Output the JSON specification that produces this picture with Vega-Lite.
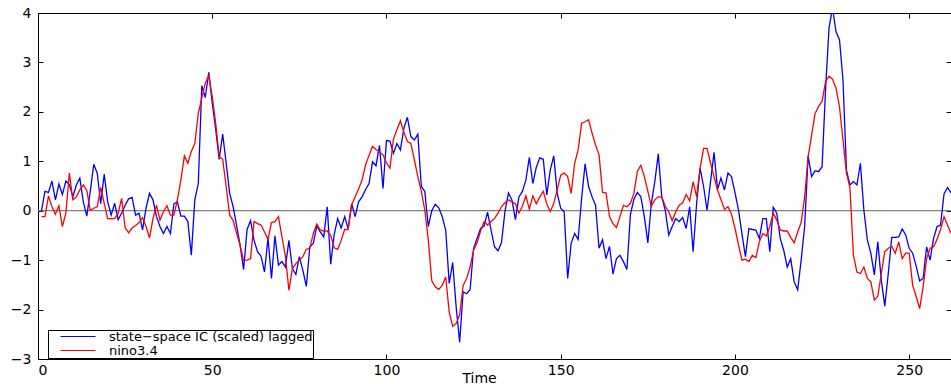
{
  "$schema": "https://vega.github.io/schema/vega-lite/v6.json",
  "width": 913,
  "height": 346,
  "autosize": "none",
  "padding": {"left": 38, "top": 13, "right": 0, "bottom": 25},
  "background": "white",
  "config": {
    "view": {"stroke": "black", "strokeWidth": 1},
    "font": "DejaVu Sans",
    "axis": {"domainColor": "black", "tickColor": "black", "labelColor": "black", "titleColor": "black", "grid": false, "labelFont": "DejaVu Sans", "labelFontSize": 14, "tickSize": -5}
  },
  "data": {
    "values": [
      {"t":1,"a":0,"b":-0.12},{"t":2,"a":0.39,"b":-0.12},{"t":3,"a":0.37,"b":0.3},{"t":4,"a":0.6,"b":0.08},{"t":5,"a":0.22,"b":-0.07},
      {"t":6,"a":0.54,"b":0.1},{"t":7,"a":0.33,"b":-0.32},{"t":8,"a":0.6,"b":-0.05},{"t":9,"a":0.53,"b":0.76},{"t":10,"a":0.28,"b":0.22},
      {"t":11,"a":0.52,"b":0.28},{"t":12,"a":0.66,"b":0.42},{"t":13,"a":0.18,"b":0.52},{"t":14,"a":-0.11,"b":0.41},{"t":15,"a":0.39,"b":0.01},
      {"t":16,"a":0.94,"b":0.05},{"t":17,"a":0.76,"b":0.08},{"t":18,"a":0.14,"b":0.47},{"t":19,"a":0.74,"b":0.15},{"t":20,"a":0.18,"b":-0.16},
      {"t":21,"a":-0.09,"b":-0.16},{"t":22,"a":0.15,"b":-0.16},{"t":23,"a":-0.18,"b":-0.05},{"t":24,"a":-0.05,"b":0.25},{"t":25,"a":0.11,"b":-0.34},
      {"t":26,"a":0.24,"b":-0.45},{"t":27,"a":0.27,"b":-0.35},{"t":28,"a":-0.09,"b":-0.3},{"t":29,"a":-0.05,"b":-0.24},{"t":30,"a":-0.39,"b":-0.14},
      {"t":31,"a":0.05,"b":-0.32},{"t":32,"a":0.35,"b":-0.55},{"t":33,"a":0.22,"b":-0.16},{"t":34,"a":-0.12,"b":0.11},{"t":35,"a":-0.32,"b":-0.19},
      {"t":36,"a":-0.46,"b":-0.02},{"t":37,"a":-0.32,"b":0.1},{"t":38,"a":-0.46,"b":-0.09},{"t":39,"a":0.14,"b":-0.09},{"t":40,"a":0.18,"b":0.22},
      {"t":41,"a":-0.11,"b":0.62},{"t":42,"a":-0.11,"b":1.11},{"t":43,"a":-0.22,"b":0.96},{"t":44,"a":-0.9,"b":1.2},{"t":45,"a":0.22,"b":1.36},
      {"t":46,"a":0.55,"b":1.97},{"t":47,"a":2.53,"b":2.28},{"t":48,"a":2.29,"b":2.58},{"t":49,"a":2.8,"b":2.73},{"t":50,"a":2.18,"b":2.31},
      {"t":51,"a":1.64,"b":1.77},{"t":52,"a":1.04,"b":1.09},{"t":53,"a":1.55,"b":1.04},{"t":54,"a":0.96,"b":0.49},{"t":55,"a":0.35,"b":-0.09},
      {"t":56,"a":0.08,"b":-0.2},{"t":57,"a":-0.3,"b":-0.46},{"t":58,"a":-0.7,"b":-0.7},{"t":59,"a":-1.19,"b":-1.01},{"t":60,"a":-0.38,"b":-1.0},
      {"t":61,"a":-0.2,"b":-0.97},{"t":62,"a":-0.6,"b":-0.22},{"t":63,"a":-0.83,"b":-0.26},{"t":64,"a":-0.92,"b":-0.29},{"t":65,"a":-1.24,"b":-0.43},
      {"t":66,"a":-0.55,"b":-0.58},{"t":67,"a":-1.37,"b":-0.24},{"t":68,"a":-0.51,"b":-0.22},{"t":69,"a":-1.1,"b":-0.12},{"t":70,"a":-1.03,"b":-0.53},
      {"t":71,"a":-1.14,"b":-0.92},{"t":72,"a":-0.6,"b":-1.61},{"t":73,"a":-1.17,"b":-1.17},{"t":74,"a":-1.29,"b":-1.07},{"t":75,"a":-0.93,"b":-1.0},
      {"t":76,"a":-1.2,"b":-0.93},{"t":77,"a":-1.53,"b":-0.78},{"t":78,"a":-0.73,"b":-0.76},{"t":79,"a":-0.66,"b":-0.46},{"t":80,"a":-0.31,"b":-0.27},
      {"t":81,"a":-0.43,"b":-0.39},{"t":82,"a":-0.53,"b":-0.41},{"t":83,"a":0.08,"b":-0.41},{"t":84,"a":-1.08,"b":-0.5},{"t":85,"a":-0.48,"b":-0.75},
      {"t":86,"a":-0.16,"b":-0.78},{"t":87,"a":-0.35,"b":-0.6},{"t":88,"a":-0.12,"b":-0.38},{"t":89,"a":-0.36,"b":-0.38},{"t":90,"a":0.14,"b":0.11},
      {"t":91,"a":-0.12,"b":0.28},{"t":92,"a":0.18,"b":0.44},{"t":93,"a":0.28,"b":0.62},{"t":94,"a":0.43,"b":0.93},{"t":95,"a":0.55,"b":1.12},
      {"t":96,"a":0.99,"b":1.3},{"t":97,"a":0.91,"b":1.24},{"t":98,"a":1.32,"b":1.19},{"t":99,"a":0.45,"b":1.13},{"t":100,"a":1.42,"b":0.97},
      {"t":101,"a":1.41,"b":0.86},{"t":102,"a":1.16,"b":1.45},{"t":103,"a":1.36,"b":1.64},{"t":104,"a":1.23,"b":1.82},{"t":105,"a":1.67,"b":1.59},
      {"t":106,"a":1.89,"b":1.4},{"t":107,"a":1.5,"b":1.36},{"t":108,"a":1.43,"b":1.03},{"t":109,"a":1.55,"b":0.69},{"t":110,"a":0.49,"b":0.39},
      {"t":111,"a":0.39,"b":0.01},{"t":112,"a":-0.32,"b":-0.59},{"t":113,"a":0.0,"b":-1.42},{"t":114,"a":0.13,"b":-1.54},{"t":115,"a":0.06,"b":-1.59},
      {"t":116,"a":-0.12,"b":-1.51},{"t":117,"a":-0.39,"b":-1.34},{"t":118,"a":-1.47,"b":-2.05},{"t":119,"a":-1.05,"b":-2.34},{"t":120,"a":-1.95,"b":-2.28},
      {"t":121,"a":-2.66,"b":-2.11},{"t":122,"a":-1.64,"b":-1.51},{"t":123,"a":-1.68,"b":-1.37},{"t":124,"a":-1.6,"b":-1.14},{"t":125,"a":-0.76,"b":-0.8},
      {"t":126,"a":-0.56,"b":-0.65},{"t":127,"a":-0.36,"b":-0.41},{"t":128,"a":-0.31,"b":-0.22},{"t":129,"a":-0.03,"b":-0.29},{"t":130,"a":-0.39,"b":-0.22},
      {"t":131,"a":-0.73,"b":-0.16},{"t":132,"a":-0.81,"b":-0.05},{"t":133,"a":-0.65,"b":0.08},{"t":134,"a":-0.02,"b":0.16},{"t":135,"a":0.36,"b":0.22},
      {"t":136,"a":0.22,"b":0.18},{"t":137,"a":-0.18,"b":0.14},{"t":138,"a":0.28,"b":-0.05},{"t":139,"a":0.39,"b":0.09},{"t":140,"a":0.62,"b":0.3},
      {"t":141,"a":1.08,"b":0.03},{"t":142,"a":0.55,"b":0.3},{"t":143,"a":0.88,"b":0.14},{"t":144,"a":1.07,"b":0.28},{"t":145,"a":1.04,"b":0.39},
      {"t":146,"a":0.32,"b":0.14},{"t":147,"a":0.82,"b":-0.02},{"t":148,"a":1.11,"b":0.15},{"t":149,"a":0.35,"b":0.42},{"t":150,"a":0.05,"b":0.72},
      {"t":151,"a":-0.02,"b":0.76},{"t":152,"a":-1.37,"b":0.69},{"t":153,"a":-0.66,"b":0.35},{"t":154,"a":-0.46,"b":0.96},{"t":155,"a":-0.58,"b":1.23},
      {"t":156,"a":0.25,"b":1.77},{"t":157,"a":0.95,"b":1.8},{"t":158,"a":0.49,"b":1.84},{"t":159,"a":0.28,"b":1.57},{"t":160,"a":0.11,"b":1.33},
      {"t":161,"a":-0.76,"b":1.13},{"t":162,"a":-0.59,"b":0.37},{"t":163,"a":-0.97,"b":0.36},{"t":164,"a":-0.72,"b":-0.12},{"t":165,"a":-1.28,"b":-0.26},
      {"t":166,"a":-0.97,"b":-0.34},{"t":167,"a":-0.9,"b":-0.12},{"t":168,"a":-1.03,"b":0.11},{"t":169,"a":-1.19,"b":0.08},{"t":170,"a":-0.08,"b":0.15},
      {"t":171,"a":0.23,"b":0.35},{"t":172,"a":0.37,"b":0.8},{"t":173,"a":0.28,"b":0.92},{"t":174,"a":-0.12,"b":0.69},{"t":175,"a":-0.65,"b":0.39},
      {"t":176,"a":0.14,"b":0.09},{"t":177,"a":0.59,"b":0.22},{"t":178,"a":1.15,"b":0.28},{"t":179,"a":0.28,"b":0.28},{"t":180,"a":0.01,"b":0.09},
      {"t":181,"a":-0.49,"b":-0.02},{"t":182,"a":-0.32,"b":-0.2},{"t":183,"a":-0.16,"b":-0.02},{"t":184,"a":-0.22,"b":0.11},{"t":185,"a":-0.14,"b":0.16},
      {"t":186,"a":-0.36,"b":0.33},{"t":187,"a":0.08,"b":0.2},{"t":188,"a":-0.83,"b":0.59},{"t":189,"a":0.14,"b":0.28},{"t":190,"a":0.86,"b":0.86},
      {"t":191,"a":0.49,"b":1.26},{"t":192,"a":0.01,"b":1.26},{"t":193,"a":0.59,"b":0.96},{"t":194,"a":1.18,"b":0.69},{"t":195,"a":0.43,"b":0.42},
      {"t":196,"a":0.66,"b":0.22},{"t":197,"a":0.42,"b":0.03},{"t":198,"a":0.76,"b":0.08},{"t":199,"a":0.69,"b":-0.07},{"t":200,"a":0.37,"b":-0.35},
      {"t":201,"a":0.02,"b":-0.68},{"t":202,"a":-0.46,"b":-1.0},{"t":203,"a":-0.93,"b":-0.98},{"t":204,"a":-0.36,"b":-1.03},{"t":205,"a":-0.38,"b":-0.9},
      {"t":206,"a":-0.39,"b":-0.95},{"t":207,"a":-0.56,"b":-0.63},{"t":208,"a":-0.16,"b":-0.46},{"t":209,"a":-0.16,"b":-0.51},{"t":210,"a":-0.83,"b":-0.32},
      {"t":211,"a":0.07,"b":-0.05},{"t":212,"a":-0.05,"b":-0.19},{"t":213,"a":-0.56,"b":-0.39},{"t":214,"a":-0.8,"b":-0.41},{"t":215,"a":-1.14,"b":-0.41},
      {"t":216,"a":-0.97,"b":-0.54},{"t":217,"a":-1.44,"b":-0.65},{"t":218,"a":-1.6,"b":-0.43},{"t":219,"a":-1.0,"b":-0.24},{"t":220,"a":-0.32,"b":0.28},
      {"t":221,"a":1.11,"b":1.09},{"t":222,"a":0.69,"b":1.53},{"t":223,"a":0.81,"b":1.97},{"t":224,"a":0.79,"b":2.11},{"t":225,"a":0.89,"b":2.21},
      {"t":226,"a":2.45,"b":2.61},{"t":227,"a":3.7,"b":2.72},{"t":228,"a":4.1,"b":2.66},{"t":229,"a":3.62,"b":2.48},{"t":230,"a":3.46,"b":2.1},
      {"t":231,"a":2.65,"b":1.43},{"t":232,"a":0.82,"b":0.76},{"t":233,"a":0.52,"b":0.47},{"t":234,"a":0.59,"b":-0.9},{"t":235,"a":0.52,"b":-1.24},
      {"t":236,"a":0.96,"b":-1.27},{"t":237,"a":0.01,"b":-1.14},{"t":238,"a":-0.59,"b":-1.37},{"t":239,"a":-0.86,"b":-1.44},{"t":240,"a":-1.3,"b":-1.81},
      {"t":241,"a":-0.63,"b":-1.73},{"t":242,"a":-1.41,"b":-1.27},{"t":243,"a":-1.93,"b":-0.83},{"t":244,"a":-1.27,"b":-0.76},{"t":245,"a":-0.54,"b":-0.72},
      {"t":246,"a":-0.54,"b":-0.86},{"t":247,"a":-0.53,"b":-0.63},{"t":248,"a":-0.37,"b":-0.97},{"t":249,"a":-0.49,"b":-0.86},{"t":250,"a":-0.76,"b":-0.86},
      {"t":251,"a":-0.86,"b":-1.51},{"t":252,"a":-1.12,"b":-1.73},{"t":253,"a":-1.42,"b":-1.98},{"t":254,"a":-1.37,"b":-1.54},{"t":255,"a":-0.73,"b":-0.97},
      {"t":256,"a":-1.0,"b":-0.76},{"t":257,"a":-0.56,"b":-0.73},{"t":258,"a":-0.32,"b":-0.58},{"t":259,"a":-0.29,"b":-0.38},{"t":260,"a":0.34,"b":-0.12},
      {"t":261,"a":0.47,"b":-0.29},{"t":262,"a":0.36,"b":-0.46}
    ]
  },
  "layer": [
    {
      "data": {"values": [{}]},
      "mark": {"type": "rule", "color": "#808080", "strokeWidth": 1.2},
      "encoding": {
        "y": {"datum": 0, "type": "quantitative", "scale": {"domain": [-3, 4], "nice": false, "zero": false},
              "axis": {"orient": "right", "values": [-2, -1, 0, 1, 2, 3], "labels": false, "title": null, "domain": false, "tickSize": -5}}
      }
    },
    {
      "data": {"values": [{}]},
      "mark": {"type": "rule", "opacity": 0},
      "encoding": {
        "x": {"datum": 0, "type": "quantitative", "scale": {"domain": [0, 262], "nice": false, "zero": false},
              "axis": {"orient": "top", "values": [50, 100, 150, 200, 250], "labels": false, "title": null, "domain": false, "tickSize": -5}}
      }
    },
    {
      "transform": [{"fold": ["a", "b"], "as": ["s", "v"]}],
      "mark": {"type": "line", "strokeWidth": 1.3, "clip": true},
      "encoding": {
        "x": {"field": "t", "type": "quantitative", "scale": {"domain": [0, 262], "nice": false, "zero": false},
              "axis": {"orient": "bottom", "values": [0, 50, 100, 150, 200, 250], "format": "d", "title": "Time", "titleFont": "DejaVu Sans", "titleFontSize": 14, "titleFontWeight": "normal", "labelPadding": 9, "titleY": 12, "titleBaseline": "top", "titleX": 441}},
        "y": {"field": "v", "type": "quantitative", "scale": {"domain": [-3, 4], "nice": false, "zero": false},
              "axis": {"orient": "left", "values": [-3, -2, -1, 0, 1, 2, 3, 4], "format": "d", "title": null, "labelPadding": 12,
                       "encode": {"labels": {"update": {"dy": {"signal": "datum.value == -3 ? -8 : 0"}}}}}},
        "color": {"field": "s", "type": "nominal",
                  "scale": {"domain": ["a", "b"], "range": ["#0000ff", "#ff0000"]},
                  "legend": {"orient": "none", "legendX": 10, "legendY": 317, "title": null,
                             "labelExpr": "datum.value == 'a' ? 'state−space IC (scaled) lagged' : 'nino3.4'",
                             "strokeColor": "black", "fillColor": "white", "padding": 0,
                             "symbolType": "M1.2,0H8.2", "symbolSize": 100, "symbolStrokeWidth": 1.2,
                             "labelOffset": 48, "labelFont": "DejaVu Sans", "labelFontSize": 13, "labelColor": "black",
                             "labelLimit": 500, "rowPadding": 0,
                             "encode": {"symbols": {"update": {"stroke": {"scale": "color", "field": "value"}, "fill": {"value": "transparent"}}}}}}
      }
    }
  ]
}
